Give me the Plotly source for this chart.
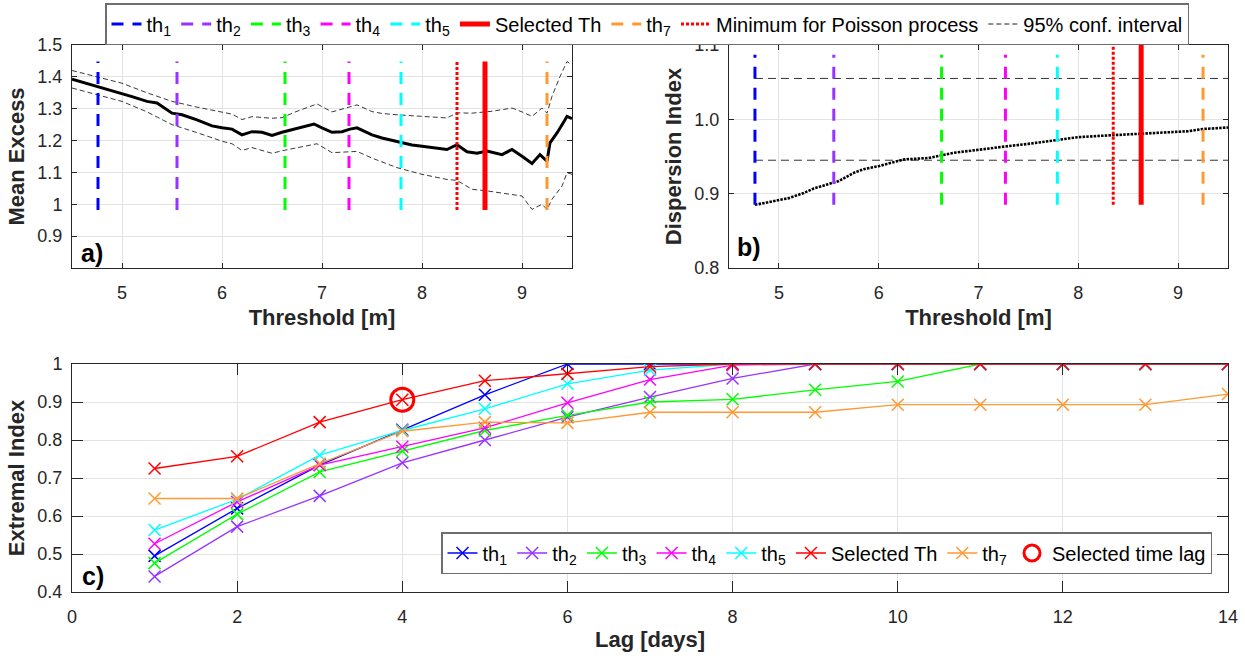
import plotly.graph_objects as go

# ---------------- data ----------------
# (a) mean excess vs threshold
me_thr = [4.50, 4.60, 4.75, 4.90, 5.00, 5.10, 5.25, 5.35, 5.50, 5.60, 5.75, 5.90, 6.00, 6.10,
          6.20, 6.30, 6.40, 6.50, 6.60, 6.75, 6.85, 6.92, 7.00, 7.10, 7.20, 7.28, 7.35, 7.50,
          7.60, 7.75, 7.90, 8.00, 8.10, 8.25, 8.35, 8.45, 8.55, 8.65, 8.80, 8.90, 9.00, 9.10,
          9.18, 9.25, 9.28, 9.35, 9.42, 9.45, 9.50]
me_mean = [1.393, 1.384, 1.370, 1.358, 1.349, 1.338, 1.323, 1.318, 1.286, 1.281, 1.265, 1.246,
           1.240, 1.236, 1.218, 1.228, 1.226, 1.216, 1.226, 1.239, 1.246, 1.252, 1.240, 1.226,
           1.228, 1.236, 1.240, 1.218, 1.208, 1.198, 1.186, 1.182, 1.178, 1.172, 1.187, 1.165,
           1.160, 1.167, 1.156, 1.172, 1.151, 1.128, 1.156, 1.135, 1.193, 1.224, 1.260, 1.276,
           1.269]
ci_up_thr = [4.50, 4.75, 5.00, 5.25, 5.50, 5.75, 6.00, 6.10, 6.20, 6.30, 6.50, 6.60, 6.75, 6.95,
             7.10, 7.25, 7.35, 7.50, 7.60, 7.75, 8.00, 8.25, 8.35, 8.50, 8.70, 8.90, 9.00, 9.10,
             9.20, 9.25, 9.30, 9.38, 9.45, 9.50]
ci_up = [1.420, 1.400, 1.380, 1.350, 1.323, 1.305, 1.290, 1.283, 1.266, 1.275, 1.270, 1.272,
         1.292, 1.315, 1.290, 1.303, 1.312, 1.291, 1.285, 1.281, 1.276, 1.271, 1.287, 1.286,
         1.292, 1.302, 1.290, 1.276, 1.302, 1.286, 1.339, 1.401, 1.448, 1.438]
ci_lo_thr = [4.50, 4.75, 5.00, 5.25, 5.50, 5.75, 6.00, 6.10, 6.20, 6.30, 6.50, 6.60, 6.75, 6.95,
             7.10, 7.25, 7.35, 7.50, 7.75, 8.00, 8.25, 8.35, 8.50, 8.65, 8.80, 9.00, 9.10, 9.20,
             9.25, 9.30, 9.40, 9.45, 9.50]
ci_lo = [1.365, 1.345, 1.323, 1.290, 1.250, 1.225, 1.198, 1.190, 1.169, 1.178, 1.160, 1.168,
         1.178, 1.190, 1.162, 1.165, 1.166, 1.145, 1.115, 1.094, 1.078, 1.075, 1.047, 1.042,
         1.036, 1.026, 0.984, 1.000, 0.984, 1.016, 1.057, 1.099, 1.094]

# (b) dispersion index vs threshold
di_thr = [4.76, 5.00, 5.10, 5.25, 5.35, 5.50, 5.60, 5.75, 5.85, 6.00, 6.15, 6.25, 6.50, 6.63,
          6.75, 7.00, 7.15, 7.30, 7.50, 7.75, 8.00, 8.25, 8.50, 8.75, 9.00, 9.10, 9.25, 9.50]
di_val = [0.885, 0.892, 0.894, 0.901, 0.907, 0.913, 0.917, 0.928, 0.933, 0.937, 0.942, 0.946,
          0.948, 0.952, 0.955, 0.959, 0.961, 0.964, 0.967, 0.971, 0.976, 0.978, 0.980, 0.982,
          0.983, 0.984, 0.987, 0.989]
di_ci_low = 0.945
di_ci_high = 1.055

# thresholds
th_labels = ["th<sub>1</sub>", "th<sub>2</sub>", "th<sub>3</sub>", "th<sub>4</sub>",
             "th<sub>5</sub>", "Selected Th", "th<sub>7</sub>"]
th_values = [4.76, 5.55, 6.63, 7.27, 7.79, 8.63, 9.25]
poisson_min = 8.35
me_vline_span = [0.982, 1.448]
di_vline_span = [0.885, 1.087]

# (c) extremal index vs lag
lags = [1, 2, 3, 4, 5, 6, 7, 8, 9, 10, 11, 12, 13, 14]
ei = [
    [0.495, 0.620, 0.734, 0.827, 0.919, 1.000, 1.000, 1.000, 1.000, 1.000, 1.000, 1.000, 1.000, 1.000],
    [0.441, 0.572, 0.653, 0.740, 0.800, 0.860, 0.913, 0.962, 1.000, 1.000, 1.000, 1.000, 1.000, 1.000],
    [0.476, 0.605, 0.716, 0.771, 0.825, 0.865, 0.900, 0.907, 0.932, 0.954, 1.000, 1.000, 1.000, 1.000],
    [0.527, 0.637, 0.734, 0.782, 0.832, 0.898, 0.959, 0.997, 1.000, 1.000, 1.000, 1.000, 1.000, 1.000],
    [0.563, 0.644, 0.760, 0.825, 0.882, 0.948, 0.984, 1.000, 1.000, 1.000, 1.000, 1.000, 1.000, 1.000],
    [0.725, 0.757, 0.847, 0.906, 0.956, 0.974, 0.993, 1.000, 1.000, 1.000, 1.000, 1.000, 1.000, 1.000],
    [0.646, 0.646, 0.738, 0.823, 0.847, 0.845, 0.873, 0.873, 0.873, 0.893, 0.893, 0.893, 0.893, 0.921],
]
sel_lag = [4]
sel_ei = [0.906]

# ---------------- style ----------------
th_colors = ["#0000FF", "#9933FF", "#00FF00", "#FF00FF", "#00FFFF", "#FF0000", "#FF9933"]
FONT = "Liberation Sans, Arial, sans-serif"
TXT = "#262626"
W, H = 1245, 659

fig = go.Figure()

# ---- panel a curves ----
fig.add_trace(go.Scatter(x=ci_up_thr, y=ci_up, mode="lines", xaxis="x", yaxis="y",
                         line=dict(color="#222222", width=0.9, dash="5px,3px"), showlegend=False))
fig.add_trace(go.Scatter(x=ci_lo_thr, y=ci_lo, mode="lines", xaxis="x", yaxis="y",
                         line=dict(color="#222222", width=0.9, dash="5px,3px"), showlegend=False))
fig.add_trace(go.Scatter(x=me_thr, y=me_mean, mode="lines", xaxis="x", yaxis="y",
                         line=dict(color="black", width=3), showlegend=False))

# ---- panel b curves ----
for v in (di_ci_high, di_ci_low):
    fig.add_trace(go.Scatter(x=[th_values[0], 9.5], y=[v, v], mode="lines", xaxis="x2", yaxis="y2",
                             line=dict(color="#333333", width=1, dash="8px,5px"), showlegend=False))
fig.add_trace(go.Scatter(x=di_thr, y=di_val, mode="lines", xaxis="x2", yaxis="y2",
                         line=dict(color="black", width=2.6, dash="2.5px,1.2px"),
                         showlegend=False))

# ---- vertical threshold lines (a & b) ----
for lab, val, col in zip(th_labels, th_values, th_colors):
    selected = (lab == "Selected Th")
    dash = "solid" if selected else "12px,9px"
    width = 5 if selected else 3
    fig.add_trace(go.Scatter(x=[val, val], y=me_vline_span, mode="lines", xaxis="x", yaxis="y",
                             name=lab, legend="legend", line=dict(color=col, width=width, dash=dash),
                             showlegend=True))
    ytop = 1.1 if selected else di_vline_span[1]
    fig.add_trace(go.Scatter(x=[val, val], y=[di_vline_span[0], ytop], mode="lines", xaxis="x2",
                             yaxis="y2", line=dict(color=col, width=width, dash=dash),
                             showlegend=False))

fig.add_trace(go.Scatter(x=[poisson_min, poisson_min], y=me_vline_span, mode="lines", xaxis="x",
                         yaxis="y", name="Minimum for Poisson process", legend="legend",
                         line=dict(color="#FF0000", width=3, dash="3px,2px")))
fig.add_trace(go.Scatter(x=[poisson_min, poisson_min], y=[di_vline_span[0], 1.1], mode="lines",
                         xaxis="x2", yaxis="y2", showlegend=False,
                         line=dict(color="#FF0000", width=3, dash="3px,2px")))
# legend entry for the conf. interval (uses the first upper-CI point)
fig.add_trace(go.Scatter(x=ci_up_thr[:1], y=ci_up[:1], mode="lines", xaxis="x", yaxis="y",
                         name="95% conf. interval", legend="legend",
                         line=dict(color="#222222", width=1, dash="5px,3px")))

# ---- panel c ----
for lab, vals, col in zip(th_labels, ei, th_colors):
    fig.add_trace(go.Scatter(x=lags, y=vals, mode="lines+markers", xaxis="x3", yaxis="y3",
                             name=lab, legend="legend2",
                             line=dict(color=col, width=1.3),
                             marker=dict(symbol="x-thin-open", size=12, color=col,
                                         line=dict(color=col, width=1.5))))
fig.add_trace(go.Scatter(x=sel_lag, y=sel_ei, mode="markers", xaxis="x3", yaxis="y3",
                         name="Selected time lag", legend="legend2",
                         marker=dict(symbol="circle-open", size=23, color="#FF0000",
                                     line=dict(color="#FF0000", width=3))))


def px_x(p):
    return p / W


def px_y(p):
    return 1 - p / H


def axis_common(ticklen):
    return dict(showline=True, linecolor=TXT, linewidth=1, mirror="allticks",
                ticks="inside", ticklen=ticklen, tickcolor=TXT, tickwidth=1,
                showgrid=True, gridcolor="#e3e3e3", gridwidth=1, zeroline=False,
                automargin=False, tickfont=dict(family=FONT, size=18, color=TXT))


title_font = dict(family=FONT, size=22, color=TXT, weight="bold")

fig.update_layout(
    width=W, height=H, margin=dict(l=0, r=0, t=0, b=0),
    paper_bgcolor="white", plot_bgcolor="white",
    font=dict(family=FONT, size=18, color=TXT),
    xaxis=dict(domain=[px_x(72), px_x(572)], range=[4.5, 9.5], anchor="y",
               tickvals=[5, 6, 7, 8, 9], ticklabelstandoff=8,
               title=dict(text="Threshold [m]", font=title_font, standoff=8),
               **axis_common(5)),
    yaxis=dict(domain=[px_y(268), px_y(45)], range=[0.8, 1.5], anchor="x",
               tickvals=[0.9, 1.0, 1.1, 1.2, 1.3, 1.4, 1.5],
               ticktext=["0.9", "1", "1.1", "1.2", "1.3", "1.4", "1.5"], ticklabelstandoff=5,
               title=dict(text="Mean Excess", font=title_font, standoff=6),
               **axis_common(5)),
    xaxis2=dict(domain=[px_x(729), px_x(1228)], range=[4.5, 9.5], anchor="y2",
                tickvals=[5, 6, 7, 8, 9], ticklabelstandoff=8,
                title=dict(text="Threshold [m]", font=title_font, standoff=8),
                **axis_common(5)),
    yaxis2=dict(domain=[px_y(268), px_y(45)], range=[0.8, 1.1], anchor="x2",
                tickvals=[0.8, 0.9, 1.0, 1.1], ticktext=["0.8", "0.9", "1.0", "1.1"],
                ticklabelstandoff=5,
                title=dict(text="Dispersion Index", font=title_font, standoff=6),
                **axis_common(5)),
    xaxis3=dict(domain=[px_x(72), px_x(1228)], range=[0, 14], anchor="y3",
                tickvals=[0, 2, 4, 6, 8, 10, 12, 14], ticklabelstandoff=8,
                title=dict(text="Lag [days]", font=title_font, standoff=6),
                **axis_common(11)),
    yaxis3=dict(domain=[px_y(592), px_y(364)], range=[0.4, 1.0], anchor="x3",
                tickvals=[0.4, 0.5, 0.6, 0.7, 0.8, 0.9, 1.0],
                ticktext=["0.4", "0.5", "0.6", "0.7", "0.8", "0.9", "1"], ticklabelstandoff=5,
                title=dict(text="Extremal Index", font=title_font, standoff=6),
                **axis_common(11)),
    legend=dict(orientation="h", x=px_x(647), xanchor="center", y=px_y(3), yanchor="top",
                bgcolor="white", bordercolor="#6e6e6e", borderwidth=1.5,
                font=dict(family=FONT, size=20, color="black"), traceorder="normal"),
    legend2=dict(orientation="h", x=px_x(1212), xanchor="right", y=px_y(532), yanchor="top",
                 bgcolor="white", bordercolor="#6e6e6e", borderwidth=1.5,
                 font=dict(family=FONT, size=20, color="black"), traceorder="normal"),
    annotations=[
        dict(text="a)", x=px_x(79), y=px_y(269), xref="paper", yref="paper", xanchor="left",
             yanchor="bottom", showarrow=False, font=dict(family=FONT, size=25, color="black",
                                                          weight="bold")),
        dict(text="b)", x=px_x(735), y=px_y(263), xref="paper", yref="paper", xanchor="left",
             yanchor="bottom", showarrow=False, font=dict(family=FONT, size=25, color="black",
                                                          weight="bold")),
        dict(text="c)", x=px_x(80), y=px_y(592), xref="paper", yref="paper", xanchor="left",
             yanchor="bottom", showarrow=False, font=dict(family=FONT, size=25, color="black",
                                                          weight="bold")),
    ],
)

fig.write_html("out.html", config={"displayModeBar": False},
               post_script="document.body.style.margin='0';document.body.style.overflow='hidden';")
